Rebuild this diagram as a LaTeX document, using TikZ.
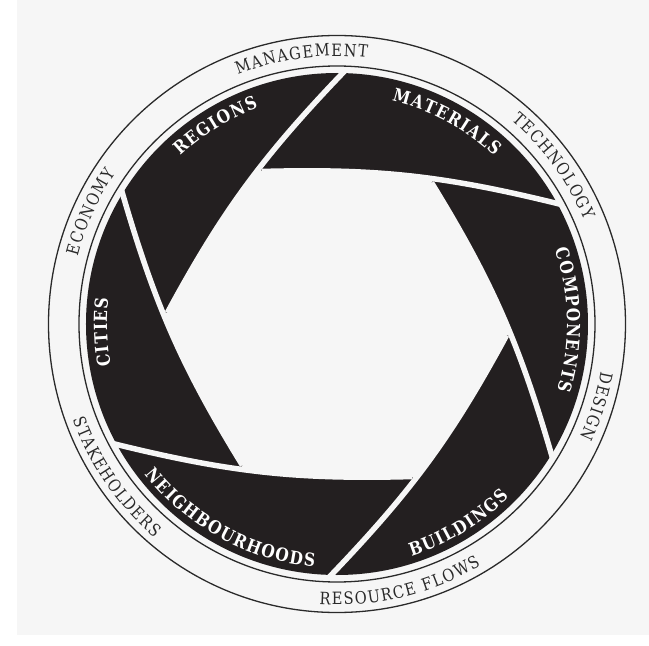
\documentclass[tikz,border=0pt]{standalone}
\usepackage{fontspec}
\usetikzlibrary{decorations.text}
\newfontfamily\ringfont[FakeStretch=0.86]{DejaVu Serif}
\definecolor{paper}{HTML}{F6F6F6}
\definecolor{ink}{HTML}{231F20}
\definecolor{rim}{HTML}{2A2A2A}

\begin{document}
\begin{tikzpicture}[x=1pt, y=1pt,
  rimline/.style={draw=rim, line width=1.3pt},
  gap/.style={draw=paper, line width=5.5pt, shorten >=-6pt},
  curvedtext/.style 2 args={decorate, decoration={text effects along path, text={#1}, text align=center,
    text effects/.cd, text along path, character widths={inner xsep=0.7pt},
    characters={inner sep=0pt, text=#2}}}]
  \fill[white] (-337,-322) rectangle (312,324);
  \fill[paper] (-320,-311) rectangle (312,324);
  \fill[ink] (0,0) circle[radius=251];
  \foreach \k in {0,...,5} {
    \coordinate (s\k) at ({116.2-60*\k}:170);
    \coordinate (m\k) at ({56.2-60*\k}:173);
    \coordinate (p\k) at ({28.7-60*\k}:251);
  }
  \fill[paper] (s0) \foreach \k/\n in {0/1,1/2,2/3,3/4,4/5,5/0} {to[bend left=4.45] (m\k) -- (s\n)} -- cycle;
  \foreach \k in {0,...,5}
    \draw[gap] (s\k) to[bend left=7.73] (p\k);
  \draw[rimline] (0,0) circle[radius=258];
  \draw[rimline] (0,0) circle[radius=288.5];
  \foreach \c/\r/\d/\t in {97.6/268/1/MANAGEMENT, 36.1/268/1/TECHNOLOGY, -17.6/268/1/DESIGN,
      -76.4/281/-1/RESOURCE FLOWS, -145.3/281/-1/STAKEHOLDERS, 155.6/268/1/ECONOMY}
    {\ringfont\fontsize{17}{18}\selectfont
     \path[curvedtext/.expanded={\t}{rim}] ({\c+50*\d}:\r) arc[start angle=\c+50*\d, end angle=\c-50*\d, radius=\r];}
  \foreach \c/\r/\d/\t in {121.5/230/1/REGIONS, 61.5/230/1/MATERIALS, 1/230/1/COMPONENTS,
      -58.7/244/-1/BUILDINGS, -118.6/244/-1/NEIGHBOURHOODS, -178/230/1/CITIES}
    {\ringfont\bfseries\fontsize{18}{19}\selectfont
     \path[curvedtext/.expanded={\t}{white}] ({\c+50*\d}:\r) arc[start angle=\c+50*\d, end angle=\c-50*\d, radius=\r];}
\end{tikzpicture}
\end{document}
